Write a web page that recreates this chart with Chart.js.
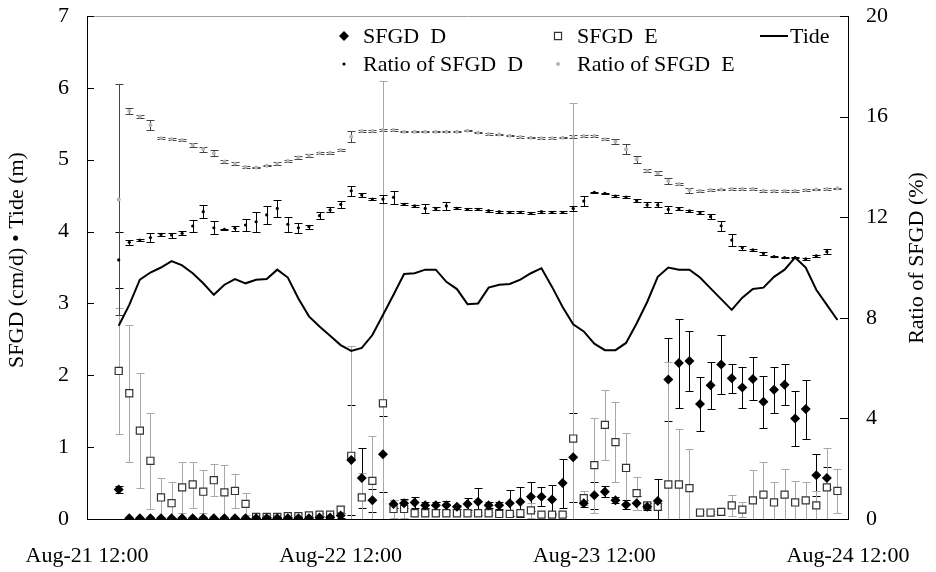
<!DOCTYPE html>
<html>
<head>
<meta charset="utf-8">
<script src="https://cdn.jsdelivr.net/npm/chart.js@4.4.0/dist/chart.umd.min.js"></script>
<style>
  body { margin: 0; background: #fff; }
  #wrap { width: 936px; height: 572px; position: relative; }
</style>
</head>
<body>
<div id="wrap"><canvas id="grafico"></canvas></div>
<script>
// x axis: hours after Aug-21 12:00, one sample per hour starting at 15:00
const tickLabels = ["Aug-21 12:00", "Aug-22 12:00", "Aug-23 12:00", "Aug-24 12:00"];
const firstHour = 3;

// SFGD D (cm/d) and its error
const sfgdD = [0.41, 0.01, 0.01, 0.01, 0.01, 0.01, 0.01, 0.01, 0.01, 0.01, 0.01, 0.01, 0.01, 0.01,
  0.01, 0.01, 0.01, 0.01, 0.01, 0.02, 0.02, 0.05, 0.82, 0.57, 0.26, 0.90, 0.21, 0.22, 0.23, 0.19,
  0.19, 0.19, 0.17, 0.21, 0.24, 0.19, 0.19, 0.22, 0.24, 0.31, 0.31, 0.27, 0.50, 0.86, 0.22, 0.33,
  0.38, 0.26, 0.20, 0.22, 0.17, 0.25, 1.94, 2.17, 2.20, 1.60, 1.86, 2.15, 1.96, 1.83, 1.95, 1.63,
  1.80, 1.87, 1.40, 1.53, 0.61, 0.57, null];
const sfgdDErr = [0.05, 0, 0, 0, 0, 0, 0, 0, 0, 0, 0, 0, 0, 0,
  0.02, 0.02, 0.02, 0.02, 0.02, 0.02, 0.02, 0.03, 0.77, 0.42, 0.16, 0.53, 0.06, 0.06, 0.07, 0.04,
  0.05, 0.06, 0.03, 0.08, 0.19, 0.04, 0.05, 0.18, 0.21, 0.20, 0.13, 0.20, 0.34, 0.62, 0.05, 0.19,
  0.08, 0.04, 0.06, 0.10, 0.05, 0.30, 0.58, 0.62, 0.42, 0.37, 0.33, 0.41, 0.20, 0.28, 0.30, 0.36,
  0.32, 0.29, 0.38, 0.41, 0.29, 0.15, null];

// SFGD E (cm/d) and its error
const sfgdE = [2.06, 1.75, 1.23, 0.81, 0.30, 0.22, 0.44, 0.48, 0.38, 0.54, 0.37, 0.39, 0.21, 0.03,
  0.03, 0.03, 0.04, 0.04, 0.05, 0.06, 0.06, 0.13, 0.88, 0.30, 0.53, 1.61, 0.14, 0.14, 0.08, 0.08,
  0.08, 0.08, 0.08, 0.08, 0.08, 0.08, 0.07, 0.07, 0.08, 0.12, 0.06, 0.06, 0.06, 1.12, 0.29, 0.75,
  1.31, 1.07, 0.71, 0.36, 0.19, 0.17, 0.48, 0.48, 0.43, 0.09, 0.09, 0.10, 0.19, 0.13, 0.26, 0.34,
  0.23, 0.34, 0.23, 0.26, 0.19, 0.44, 0.39];
const sfgdEErr = [0.88, 0.95, 0.80, 0.67, 0.27, 0.29, 0.35, 0.32, 0.30, 0.22, 0.38, 0.24, 0.15, 0.02,
  0.02, 0.02, 0.02, 0.02, 0.02, 0.02, 0.02, 0.05, 1.53, 0.34, 0.62, 4.48, 0.12, 0.12, 0.02, 0.02,
  0.02, 0.02, 0.02, 0.02, 0.02, 0.02, 0.02, 0.02, 0.02, 0.10, 0.02, 0.02, 0.02, 4.67, 0.10, 0.66,
  0.49, 0.56, 0.49, 0.23, 0.05, 0.05, 1.71, 0.77, 0.54, 0.02, 0.02, 0.05, 0.15, 0.10, 0.42, 0.45,
  0.28, 0.36, 0.30, 0.26, 0.20, 0.55, 0.30];

// Tide (m)
const tide = [2.69, 2.98, 3.33, 3.43, 3.50, 3.59, 3.53, 3.42, 3.28, 3.12, 3.26, 3.34, 3.28, 3.33,
  3.34, 3.47, 3.36, 3.07, 2.82, 2.68, 2.55, 2.42, 2.34, 2.38, 2.56, 2.84, 3.12, 3.41, 3.42, 3.47,
  3.47, 3.30, 3.20, 2.99, 3.00, 3.22, 3.26, 3.27, 3.33, 3.42, 3.49, 3.23, 2.95, 2.71, 2.61, 2.44,
  2.35, 2.35, 2.45, 2.72, 3.02, 3.37, 3.50, 3.47, 3.47, 3.36, 3.21, 3.06, 2.91, 3.08, 3.20, 3.22,
  3.37, 3.47, 3.64, 3.50, 3.19, 2.98, 2.77];

// Ratio of SFGD D (%) and its error
const ratioD = [10.3, 11.0, 11.09, 11.19, 11.32, 11.29, 11.36, 11.65, 12.22, 11.58, 11.52, 11.56, 11.69, 11.82,
  12.09, 12.35, 11.72, 11.58, 11.62, 12.06, 12.29, 12.51, 13.05, 12.88, 12.72, 12.72, 12.79, 12.51, 12.45, 12.35,
  12.35, 12.45, 12.35, 12.31, 12.31, 12.26, 12.22, 12.19, 12.19, 12.15, 12.22, 12.19, 12.19, 12.35, 12.64, 12.99,
  12.95, 12.84, 12.80, 12.66, 12.49, 12.49, 12.31, 12.33, 12.25, 12.18, 12.02, 11.66, 11.09, 10.79, 10.70, 10.56,
  10.43, 10.39, 10.39, 10.34, 10.46, 10.63, null];
const ratioDErr = [1.12, 0.10, 0.05, 0.19, 0.06, 0.10, 0.08, 0.23, 0.25, 0.25, 0.03, 0.10, 0.23, 0.40,
  0.35, 0.33, 0.29, 0.19, 0.07, 0.15, 0.10, 0.13, 0.20, 0.08, 0.03, 0.15, 0.25, 0.04, 0.05, 0.17,
  0.05, 0.15, 0.04, 0.04, 0.04, 0.04, 0.04, 0.04, 0.04, 0.04, 0.04, 0.04, 0.04, 0.10, 0.20, 0.03,
  0.03, 0.05, 0.05, 0.05, 0.10, 0.10, 0.15, 0.06, 0.05, 0.05, 0.10, 0.20, 0.25, 0.08, 0.05, 0.05,
  0.03, 0.03, 0.03, 0.03, 0.05, 0.10, null];

// Ratio of SFGD E (%) and its error
const ratioE = [12.7, 16.22, 16.0, 15.67, 15.14, 15.10, 15.07, 14.87, 14.71, 14.54, 14.21, 14.14, 14.0, 13.98,
  14.05, 14.14, 14.23, 14.38, 14.45, 14.54, 14.56, 14.67, 15.2, 15.43, 15.43, 15.47, 15.47, 15.4, 15.4, 15.4,
  15.4, 15.4, 15.4, 15.44, 15.36, 15.31, 15.29, 15.24, 15.19, 15.16, 15.14, 15.14, 15.16, 15.2, 15.23, 15.23,
  15.1, 15.0, 14.7, 14.3, 13.85, 13.75, 13.44, 13.32, 13.08, 13.05, 13.08, 13.1, 13.12, 13.12, 13.12, 13.05,
  13.04, 13.04, 13.05, 13.08, 13.1, 13.12, 13.15];
const ratioEErr = [4.6, 0.13, 0.05, 0.19, 0.05, 0.05, 0.05, 0.08, 0.10, 0.12, 0.06, 0.05, 0.05, 0.03,
  0.03, 0.05, 0.05, 0.05, 0.05, 0.04, 0.04, 0.05, 0.21, 0.05, 0.03, 0.03, 0.03, 0.03, 0.03, 0.03,
  0.03, 0.03, 0.03, 0.03, 0.03, 0.03, 0.03, 0.03, 0.03, 0.03, 0.03, 0.03, 0.03, 0.05, 0.05, 0.05,
  0.05, 0.10, 0.20, 0.15, 0.06, 0.08, 0.12, 0.05, 0.10, 0.05, 0.03, 0.03, 0.03, 0.03, 0.03, 0.03,
  0.03, 0.03, 0.03, 0.03, 0.03, 0.03, 0.03];

const fuente = "'Liberation Serif', 'Times New Roman', serif";
Chart.defaults.font.family = fuente;
Chart.defaults.color = "#000";

function puntos(valores) {
  return valores.map((v, i) => ({ x: firstHour + i, y: v }));
}

// error bars, legend, axis titles and inward ticks
const extras = {
  id: "extras",
  beforeDatasetsDraw(chart) {
    const { ctx, chartArea: a, scales } = chart;
    ctx.save();
    ctx.beginPath();
    ctx.rect(a.left, a.top, a.right - a.left, a.bottom - a.top);
    ctx.clip();
    chart.data.datasets.forEach(ds => {
      if (!ds.errores) return;
      const ys = scales[ds.yAxisID];
      ctx.strokeStyle = ds.colorError;
      ctx.lineWidth = 1;
      ds.data.forEach((p, i) => {
        const e = ds.errores[i];
        if (p.y == null || e == null) return;
        const px = Math.round(scales.x.getPixelForValue(p.x)) + 0.5;
        const top = Math.round(ys.getPixelForValue(p.y + e)) + 0.5;
        const bot = Math.round(ys.getPixelForValue(p.y - e)) + 0.5;
        ctx.beginPath();
        ctx.moveTo(px, top); ctx.lineTo(px, bot);
        ctx.moveTo(px - 4, top); ctx.lineTo(px + 4, top);
        ctx.moveTo(px - 4, bot); ctx.lineTo(px + 4, bot);
        ctx.stroke();
      });
    });
    ctx.restore();
  },
  afterDraw(chart) {
    const { ctx, chartArea: a, scales } = chart;
    ctx.save();
    // top frame line
    ctx.strokeStyle = "#a0a0a0";
    ctx.lineWidth = 1;
    ctx.beginPath();
    ctx.moveTo(a.left, a.top + 0.5); ctx.lineTo(a.right, a.top + 0.5);
    ctx.stroke();
    // inward tick marks
    ctx.strokeStyle = "#000";
    ctx.beginPath();
    scales.y.ticks.forEach(t => {
      const py = Math.round(scales.y.getPixelForValue(t.value)) + 0.5;
      ctx.moveTo(a.left, py); ctx.lineTo(a.left + 7, py);
    });
    scales.y2.ticks.forEach(t => {
      const py = Math.round(scales.y2.getPixelForValue(t.value)) + 0.5;
      ctx.moveTo(a.right, py); ctx.lineTo(a.right - 8, py);
    });
    ctx.stroke();

    // axis titles
    ctx.fillStyle = "#000";
    ctx.font = "22px " + fuente;
    ctx.textAlign = "center";
    ctx.textBaseline = "middle";
    [[scales.y, 17, 260], [scales.y2, 917, 258]].forEach(([s, tx, ty]) => {
      ctx.save();
      ctx.translate(tx, ty);
      ctx.rotate(-Math.PI / 2);
      ctx.fillText(s.options.title.text, 0, 0);
      ctx.restore();
    });

    // legend
    const sitios = [[344, 36], [558, 36], [760, 36], [344, 64], [558, 64]];
    ctx.textAlign = "left";
    chart.data.datasets.forEach((ds, i) => {
      const [lx, ly] = sitios[i];
      let tx = lx + 19;
      if (ds.showLine) {
        ctx.strokeStyle = ds.borderColor;
        ctx.lineWidth = ds.borderWidth;
        ctx.beginPath();
        ctx.moveTo(lx, ly); ctx.lineTo(lx + 28, ly);
        ctx.stroke();
        tx = lx + 30;
      } else {
        ctx.fillStyle = ds.backgroundColor;
        ctx.strokeStyle = ds.borderColor;
        ctx.lineWidth = ds.pointBorderWidth || 1;
        Chart.helpers.drawPoint(ctx, {
          pointStyle: ds.pointStyle, radius: ds.pointRadius, rotation: 0,
          borderWidth: ds.pointBorderWidth || 0
        }, lx, ly);
      }
      ctx.fillStyle = "#000";
      ctx.fillText(ds.label, tx, ly + 1);
    });
    ctx.restore();
  }
};

// fixed axis widths, no extra label padding above/below the plot
function ajusteVertical(ancho) {
  return s => { s.width = ancho; s.paddingTop = 0; s.paddingBottom = 0; };
}

new Chart(document.getElementById("grafico"), {
  type: "scatter",
  data: {
    datasets: [
      {
        label: "SFGD  D", data: puntos(sfgdD), yAxisID: "y",
        pointStyle: "rectRot", pointRadius: 5, pointBorderWidth: 0,
        backgroundColor: "#000", borderColor: "#000",
        errores: sfgdDErr, colorError: "#000", order: 2
      },
      {
        label: "SFGD  E", data: puntos(sfgdE), yAxisID: "y",
        pointStyle: "rect", pointRadius: 5, pointBorderWidth: 1.2,
        backgroundColor: "#fff", borderColor: "#333",
        errores: sfgdEErr, colorError: "#a8a8a8", order: 3
      },
      {
        label: "Tide", data: puntos(tide), yAxisID: "y",
        showLine: true, pointRadius: 0, borderColor: "#000", borderWidth: 2,
        backgroundColor: "#000", tension: 0, order: 1
      },
      {
        label: "Ratio of SFGD  D", data: puntos(ratioD), yAxisID: "y2",
        pointStyle: "circle", pointRadius: 1.6, pointBorderWidth: 0,
        backgroundColor: "#000", borderColor: "#000",
        errores: ratioDErr, colorError: "#000", order: 4
      },
      {
        label: "Ratio of SFGD  E", data: puntos(ratioE), yAxisID: "y2",
        pointStyle: "circle", pointRadius: 2, pointBorderWidth: 0,
        backgroundColor: "#b4b4b4", borderColor: "#b4b4b4",
        errores: ratioEErr, colorError: "#444", order: 5
      }
    ]
  },
  options: {
    responsive: true,
    maintainAspectRatio: false,
    animation: false,
    layout: { padding: { top: 16, left: 0, right: 0, bottom: 0 } },
    plugins: { legend: { display: false }, tooltip: { enabled: false } },
    scales: {
      x: {
        type: "linear", min: 0, max: 72,
        grid: { display: false, drawTicks: false },
        border: { display: true, color: "#000", width: 1 },
        ticks: {
          stepSize: 24, padding: 24, maxRotation: 0, autoSkip: false,
          font: { size: 22 }, color: "#000",
          callback: v => tickLabels[v / 24]
        },
        afterFit: s => { s.height = 53; }
      },
      y: {
        position: "left", min: 0, max: 7,
        title: { display: false, text: "SFGD (cm/d) \u2022 Tide (m)" },
        grid: { display: false, drawTicks: false },
        border: { display: true, color: "#000", width: 1 },
        ticks: { stepSize: 1, padding: 18, font: { size: 22 }, color: "#000" },
        afterFit: ajusteVertical(87)
      },
      y2: {
        position: "right", min: 0, max: 20,
        title: { display: false, text: "Ratio of SFGD (%)" },
        grid: { display: false, drawTicks: false },
        border: { display: true, color: "#000", width: 1 },
        ticks: { stepSize: 4, padding: 18, font: { size: 22 }, color: "#000" },
        afterFit: ajusteVertical(88)
      }
    }
  },
  plugins: [extras]
});
</script>
</body>
</html>
